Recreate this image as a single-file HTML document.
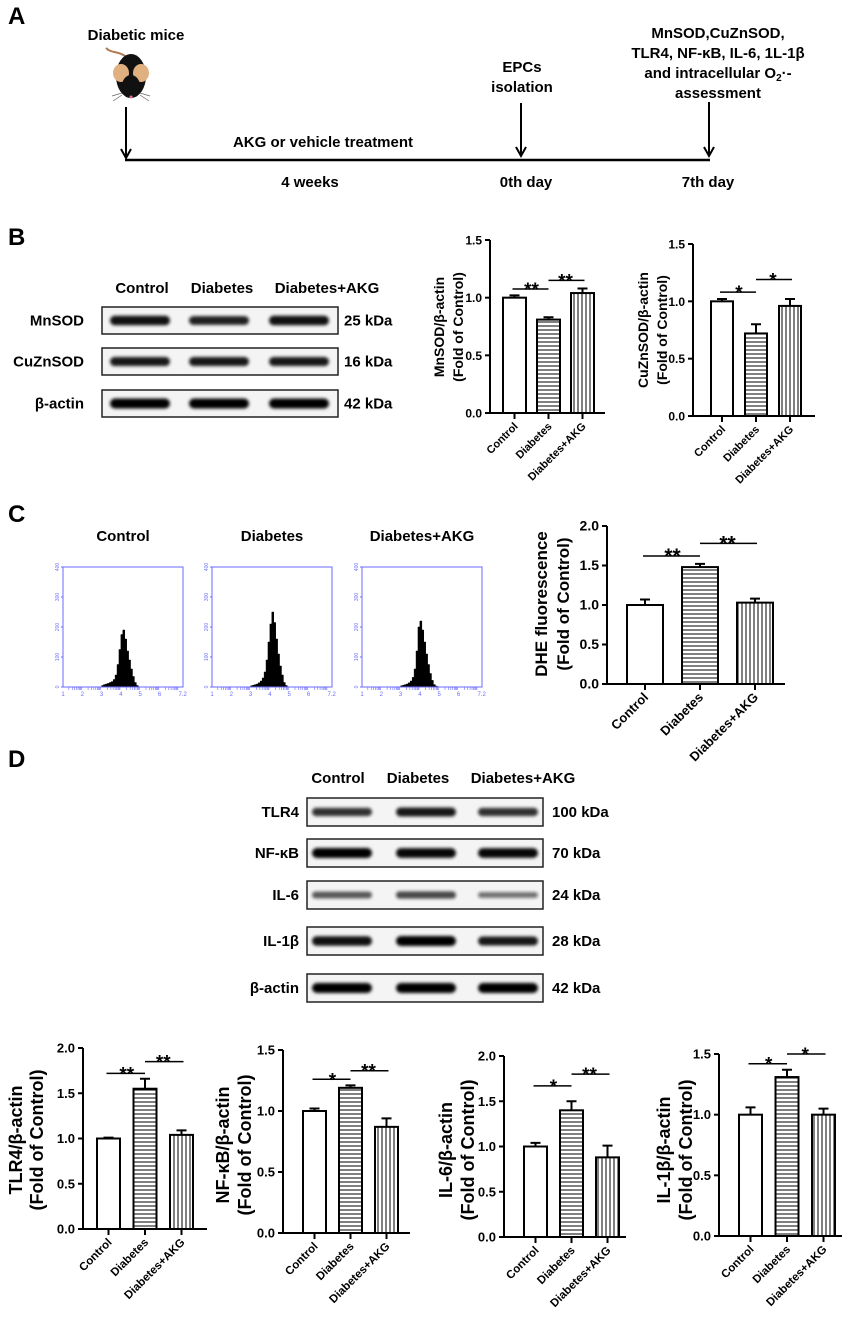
<!DOCTYPE html>
<html><head><meta charset="utf-8"><style>
html,body{margin:0;padding:0;background:#fff;}
svg{display:block;font-family:"Liberation Sans",Arial,sans-serif;}
.b{font-weight:bold;}
.n{font-family:"Liberation Sans Narrow","Liberation Sans",sans-serif;font-weight:bold;}
</style></head><body>
<svg id="fig" width="851" height="1327" viewBox="0 0 851 1327" xmlns="http://www.w3.org/2000/svg">
<defs>
<pattern id="hl" width="4" height="4" patternUnits="userSpaceOnUse"><rect width="4" height="4" fill="#fff"/><line x1="0" y1="2" x2="4" y2="2" stroke="#000" stroke-width="1"/></pattern>
<pattern id="vl" width="4" height="4" patternUnits="userSpaceOnUse"><rect width="4" height="4" fill="#fff"/><line x1="2" y1="0" x2="2" y2="4" stroke="#000" stroke-width="1"/></pattern>
<filter id="blur" x="-20%" y="-100%" width="140%" height="300%"><feGaussianBlur stdDeviation="1.6"/></filter>
</defs>

<!-- Panel A -->
<g>
<text x="8" y="24" class="b" font-size="24">A</text>
<text x="136" y="40" class="n" font-size="15" text-anchor="middle">Diabetic mice</text>
<g>
<path d="M128,58 C118,50 112,54 106,48" stroke="#b07a50" stroke-width="2" fill="none"/>
<ellipse cx="131" cy="76" rx="15" ry="22" fill="#111"/>
<ellipse cx="121" cy="73" rx="8" ry="9" fill="#e0b080"/>
<ellipse cx="141" cy="73" rx="8" ry="9" fill="#e0b080"/>
<ellipse cx="131" cy="86" rx="9" ry="11" fill="#111"/>
<circle cx="131" cy="97" r="1.5" fill="#e07090"/>
<path d="M122,93 L112,96 M122,95 L113,101 M140,93 L150,96 M140,95 L149,101" stroke="#666" stroke-width="0.7"/>
</g>
<line x1="125" y1="160" x2="710" y2="160" stroke="#000" stroke-width="2.5"/>
<path d="M126,107 V158 M121,149 L126,158 L131,149" stroke="#000" stroke-width="2" fill="none"/>
<path d="M521,103 V156 M516,147 L521,156 L526,147" stroke="#000" stroke-width="2" fill="none"/>
<path d="M709,102 V156 M704,147 L709,156 L714,147" stroke="#000" stroke-width="2" fill="none"/>
<text x="323" y="147" class="n" font-size="15" text-anchor="middle">AKG or vehicle treatment</text>
<text x="522" y="72" class="n" font-size="15" text-anchor="middle">EPCs</text>
<text x="522" y="92" class="n" font-size="15" text-anchor="middle">isolation</text>
<text x="718" y="38" class="n" font-size="15" text-anchor="middle">MnSOD,CuZnSOD,</text>
<text x="718" y="58" class="n" font-size="15" text-anchor="middle">TLR4, NF-κB, IL-6, 1L-1β</text>
<text x="718" y="78" class="n" font-size="15" text-anchor="middle">and intracellular  O<tspan font-size="10" dy="3">2</tspan><tspan dy="-3">·-</tspan></text>
<text x="718" y="98" class="n" font-size="15" text-anchor="middle">assessment</text>
<text x="310" y="187" class="n" font-size="15" text-anchor="middle">4 weeks</text>
<text x="526" y="187" class="n" font-size="15" text-anchor="middle">0th day</text>
<text x="708" y="187" class="n" font-size="15" text-anchor="middle">7th day</text>
</g>

<text x="8" y="245" class="b" font-size="24">B</text>
<text x="8" y="522" class="b" font-size="24">C</text>
<text x="8" y="767" class="b" font-size="24">D</text>

<g>
<text x="123" y="541" class="b" font-size="15" text-anchor="middle">Control</text>
<text x="272" y="541" class="b" font-size="15" text-anchor="middle">Diabetes</text>
<text x="422" y="541" class="b" font-size="15" text-anchor="middle">Diabetes+AKG</text>
</g>
</svg>

<script>
// ---------- data ----------
const categories = ["Control", "Diabetes", "Diabetes+AKG"];

const mnsodMeans = [1.00, 0.81, 1.04];
const mnsodErrs  = [0.02, 0.02, 0.04];
const mnsodTicks = [0.0, 0.5, 1.0, 1.5];
const mnsodSig   = ["**", "**"];
const mnsodSigLevels = [1.075, 1.15];

const cuznMeans = [1.00, 0.72, 0.96];
const cuznErrs  = [0.02, 0.08, 0.06];
const cuznTicks = [0.0, 0.5, 1.0, 1.5];
const cuznSig   = ["*", "*"];
const cuznSigLevels = [1.08, 1.19];

const dheMeans = [1.00, 1.48, 1.03];
const dheErrs  = [0.07, 0.04, 0.05];
const dheTicks = [0.0, 0.5, 1.0, 1.5, 2.0];
const dheSig   = ["**", "**"];
const dheSigLevels = [1.62, 1.78];

const tlr4Means = [1.00, 1.55, 1.04];
const tlr4Errs  = [0.01, 0.11, 0.05];
const tlr4Ticks = [0.0, 0.5, 1.0, 1.5, 2.0];
const tlr4Sig   = ["**", "**"];
const tlr4SigLevels = [1.72, 1.85];

const nfkbMeans = [1.00, 1.19, 0.87];
const nfkbErrs  = [0.02, 0.02, 0.07];
const nfkbTicks = [0.0, 0.5, 1.0, 1.5];
const nfkbSig   = ["*", "**"];
const nfkbSigLevels = [1.26, 1.33];

const il6Means = [1.00, 1.40, 0.88];
const il6Errs  = [0.04, 0.10, 0.13];
const il6Ticks = [0.0, 0.5, 1.0, 1.5, 2.0];
const il6Sig   = ["*", "**"];
const il6SigLevels = [1.67, 1.80];

const il1bMeans = [1.00, 1.31, 1.00];
const il1bErrs  = [0.06, 0.06, 0.05];
const il1bTicks = [0.0, 0.5, 1.0, 1.5];
const il1bSig   = ["*", "*"];
const il1bSigLevels = [1.42, 1.50];

// flow cytometry histograms: counts per 0.1-decade bin starting at 10^3.0
const histBinStart = 3.0;
const histBinStep = 0.1;
const ctrlCounts = [5, 8, 10, 12, 15, 18, 25, 40, 75, 125, 175, 190, 160, 120, 90, 60, 35, 15, 5, 1];
const diabCounts = [4, 6, 8, 10, 14, 20, 30, 50, 90, 150, 210, 250, 215, 160, 110, 70, 40, 15, 5, 1];
const akgCounts  = [4, 6, 8, 10, 14, 20, 32, 60, 120, 200, 220, 190, 150, 110, 75, 45, 22, 8, 3, 1];
const histYTicks = [0, 100, 200, 300, 400];
const histXTicks = ["1", "2", "3", "4", "5", "6", "7.2"];

// blots
const blotBRows = ["MnSOD", "CuZnSOD", "β-actin"];
const blotBKda  = ["25 kDa", "16 kDa", "42 kDa"];
const blotBIntensity = [[0.9, 0.8, 0.9], [0.85, 0.85, 0.85], [1, 1, 1]];
const blotDRows = ["TLR4", "NF-κB", "IL-6", "IL-1β", "β-actin"];
const blotDKda  = ["100 kDa", "70 kDa", "24 kDa", "28 kDa", "42 kDa"];
const blotDIntensity = [[0.7, 0.85, 0.7], [1, 0.95, 0.95], [0.45, 0.55, 0.3], [0.9, 1, 0.85], [1, 1, 1]];

// ---------- helpers ----------
const NS = "http://www.w3.org/2000/svg";
const svg = document.getElementById("fig");
function mk(tag, attrs, parent, text) {
  const e = document.createElementNS(NS, tag);
  for (const k in attrs) e.setAttribute(k, attrs[k]);
  if (text !== undefined) e.textContent = text;
  (parent || svg).appendChild(e);
  return e;
}
const fills = ["#fff", "url(#hl)", "url(#vl)"];

function barChart(o, means, errs, ticks, sig, sigLevels) {
  const g = mk("g", {});
  
  
  const yMax = ticks[ticks.length - 1];
  const ys = v => o.y0 - (v / yMax) * (o.y0 - o.yTop);
  const bx = i => o.first + i * o.step;
  const cx = i => bx(i) + o.w / 2;
  means.forEach((m, i) => {
    const r = mk("rect", {x: bx(i), y: ys(m), width: o.w, height: o.y0 - ys(m), fill: fills[i], stroke: "#000", "stroke-width": 2}, g);
    
    
    const eb = mk("path", {d: `M${cx(i)},${ys(m)} V${ys(m + errs[i])} M${cx(i) - 5},${ys(m + errs[i])} H${cx(i) + 5}`, stroke: "#000", "stroke-width": 2, fill: "none"}, g);
    
    
  });
  const ax = mk("path", {d: `M${o.axisX},${o.yTop} V${o.y0} H${o.end}`, stroke: "#000", "stroke-width": 2, fill: "none"}, g);
  
  
  ticks.forEach(t => {
    mk("line", {x1: o.axisX - 5, x2: o.axisX, y1: ys(t), y2: ys(t), stroke: "#000", "stroke-width": 2}, g);
    const tl = mk("text", {x: o.axisX - 8, y: ys(t) + 4.5, "font-size": o.tick, "font-weight": "bold", "text-anchor": "end"}, g, t.toFixed(1));
    
    
  });
  categories.forEach((c, i) => {
    mk("line", {x1: cx(i), x2: cx(i), y1: o.y0, y2: o.y0 + 6, stroke: "#000", "stroke-width": 2}, g);
    const lx = cx(i) + 4, ly = o.y0 + 14;
    const cl = mk("text", {x: lx, y: ly, "font-size": o.cat, "font-weight": "bold", "text-anchor": "end", transform: `rotate(-45 ${lx} ${ly})`}, g, c);
    
    
  });
  o.title.forEach((t, k) => {
    const tx = o.titleX[k];
    const tt = mk("text", {x: tx, y: o.titleY, "font-size": o.tsize, "font-weight": "bold", "text-anchor": "middle", transform: `rotate(-90 ${tx} ${o.titleY})`}, g, t);
    
    
  });
  sig.forEach((s, k) => {
    const y = ys(sigLevels[k]);
    const x1 = cx(k) - 2, x2 = cx(k + 1) + 2;
    const sl = mk("line", {x1: x1 + (k ? 2 : 0), x2: x2 - (k ? 0 : 2), y1: y, y2: y, stroke: "#000", "stroke-width": 1.5}, g);
    
    
    const st = mk("text", {x: (x1 + x2) / 2, y: y + 7, "font-size": o.star, "font-weight": "bold", "text-anchor": "middle"}, g, s);
    
    
  });
}

barChart({name: "mnsod-chart", axisX: 490, y0: 413, yTop: 240, first: 503, step: 34, w: 23, end: 605, tick: 12, cat: 11, title: ["MnSOD/β-actin", "(Fold of Control)"], titleX: [444, 463], titleY: 327, tsize: 14, star: 19}, mnsodMeans, mnsodErrs, mnsodTicks, mnsodSig, mnsodSigLevels);
barChart({name: "cuznsod-chart", axisX: 693, y0: 416, yTop: 244, first: 711, step: 34, w: 22, end: 815, tick: 12, cat: 11, title: ["CuZnSOD/β-actin", "(Fold of Control)"], titleX: [648, 667], titleY: 330, tsize: 14, star: 19}, cuznMeans, cuznErrs, cuznTicks, cuznSig, cuznSigLevels);
barChart({name: "dhe-chart", axisX: 607, y0: 684, yTop: 526, first: 627, step: 55, w: 36, end: 785, tick: 14, cat: 13, title: ["DHE fluorescence", "(Fold of Control)"], titleX: [547, 569], titleY: 604, tsize: 17, star: 21}, dheMeans, dheErrs, dheTicks, dheSig, dheSigLevels);
barChart({name: "tlr4-chart", axisX: 83, y0: 1229, yTop: 1048, first: 97, step: 36.5, w: 23, end: 207, tick: 13, cat: 11.5, title: ["TLR4/β-actin", "(Fold of Control)"], titleX: [22, 43], titleY: 1140, tsize: 18, star: 19}, tlr4Means, tlr4Errs, tlr4Ticks, tlr4Sig, tlr4SigLevels);
barChart({name: "nfkb-chart", axisX: 283, y0: 1233, yTop: 1050, first: 303, step: 36, w: 23, end: 410, tick: 13, cat: 11.5, title: ["NF-κB/β-actin", "(Fold of Control)"], titleX: [229, 251], titleY: 1145, tsize: 18, star: 19}, nfkbMeans, nfkbErrs, nfkbTicks, nfkbSig, nfkbSigLevels);
barChart({name: "il6-chart", axisX: 504, y0: 1237, yTop: 1056, first: 524, step: 36, w: 23, end: 626, tick: 13, cat: 11.5, title: ["IL-6/β-actin", "(Fold of Control)"], titleX: [452, 474], titleY: 1150, tsize: 18, star: 19}, il6Means, il6Errs, il6Ticks, il6Sig, il6SigLevels);
barChart({name: "il1b-chart", axisX: 719, y0: 1236, yTop: 1054, first: 739, step: 36.5, w: 23, end: 842, tick: 13, cat: 11.5, title: ["IL-1β/β-actin", "(Fold of Control)"], titleX: [670, 692], titleY: 1150, tsize: 18, star: 19}, il1bMeans, il1bErrs, il1bTicks, il1bSig, il1bSigLevels);

// ---------- histograms ----------
function histogram(name, left, counts) {
  const top = 567, bottom = 687, right = left + 120;
  const g = mk("g", {});
  
  
  const xs = d => left + (d - 1) * 19.3;
  const ys = c => bottom - c * (bottom - top) / 400;
  let d = `M${xs(histBinStart)},${bottom}`;
  counts.forEach((c, i) => {
    const a = xs(histBinStart + i * histBinStep), b = xs(histBinStart + (i + 1) * histBinStep);
    d += ` L${a},${ys(c)} L${b},${ys(c)}`;
  });
  d += ` L${xs(histBinStart + counts.length * histBinStep)},${bottom} Z`;
  const p = mk("path", {d: d, fill: "#000", stroke: "#000", "stroke-width": 0.5}, g);
  
  
  const box = mk("rect", {x: left, y: top, width: right - left, height: bottom - top, fill: "none", stroke: "#6b6bff", "stroke-width": 1}, g);
  
  
  histYTicks.forEach(t => {
    mk("line", {x1: left - 2, x2: left, y1: ys(t), y2: ys(t), stroke: "#6b6bff"}, g);
    const tl = mk("text", {x: left - 4, y: ys(t), "font-size": 5, fill: "#6b6bff", "text-anchor": "middle", transform: `rotate(-90 ${left - 4} ${ys(t)})`}, g, String(t));
    
    
  });
  histXTicks.forEach(t => {
    const x = xs(parseFloat(t));
    const tl = mk("text", {x: x, y: bottom + 9, "font-size": 6, fill: "#6b6bff", "text-anchor": "middle"}, g, t);
    
    
  });
  for (let k = 0; k < 6; k++) {
    [0.3, 0.48, 0.6, 0.7, 0.78, 0.85, 0.9, 0.95].forEach(f => {
      const x = xs(1 + k + f);
      if (x < right) mk("line", {x1: x, x2: x, y1: bottom, y2: bottom + 3, stroke: "#6b6bff", "stroke-width": 0.6}, g);
    });
  }
}
histogram("hist-control", 63, ctrlCounts);
histogram("hist-diabetes", 212, diabCounts);
histogram("hist-akg", 362, akgCounts);

// ---------- blots ----------
function blot(name, x0, x1, rowTops, rowH, rows, kda, inten, lanes, labelXs, colY, labelRight, kdaLeft, bandW) {
  const g = mk("g", {});
  
  
  categories.forEach((c, i) => {
    const t = mk("text", {x: labelXs[i], y: colY, "font-size": 15, "font-weight": "bold", "text-anchor": "middle"}, g, c);
    
    
  });
  rows.forEach((r, k) => {
    const y = rowTops[k];
    const box = mk("rect", {x: x0, y: y, width: x1 - x0, height: rowH, fill: "#f4f4f4", stroke: "#222", "stroke-width": 1.5}, g);
    
    
    inten[k].forEach((v, i) => {
      const bh = 4 + v * 6;
      const band = mk("rect", {x: lanes[i] - bandW / 2, y: y + rowH / 2 - bh / 2, width: bandW, height: bh, rx: bh / 2, fill: "#000", opacity: 0.35 + 0.65 * v, filter: "url(#blur)"}, g);
      
      
    });
    const lab = mk("text", {x: labelRight, y: y + rowH / 2 + 5, "font-size": 15, "font-weight": "bold", "text-anchor": "end"}, g, r);
    
    
    const kd = mk("text", {x: kdaLeft, y: y + rowH / 2 + 5, "font-size": 15, "font-weight": "bold"}, g, kda[k]);
    
    
  });
}
blot("blot-b", 102, 338, [307, 348, 390], 27, blotBRows, blotBKda, blotBIntensity, [140, 219, 299], [142, 222, 327], 293, 84, 344, 60);
blot("blot-d", 307, 543, [798, 839, 881, 927, 974], 28, blotDRows, blotDKda, blotDIntensity, [342, 426, 508], [338, 418, 523], 783, 299, 552, 60);
</script>
</body></html>
